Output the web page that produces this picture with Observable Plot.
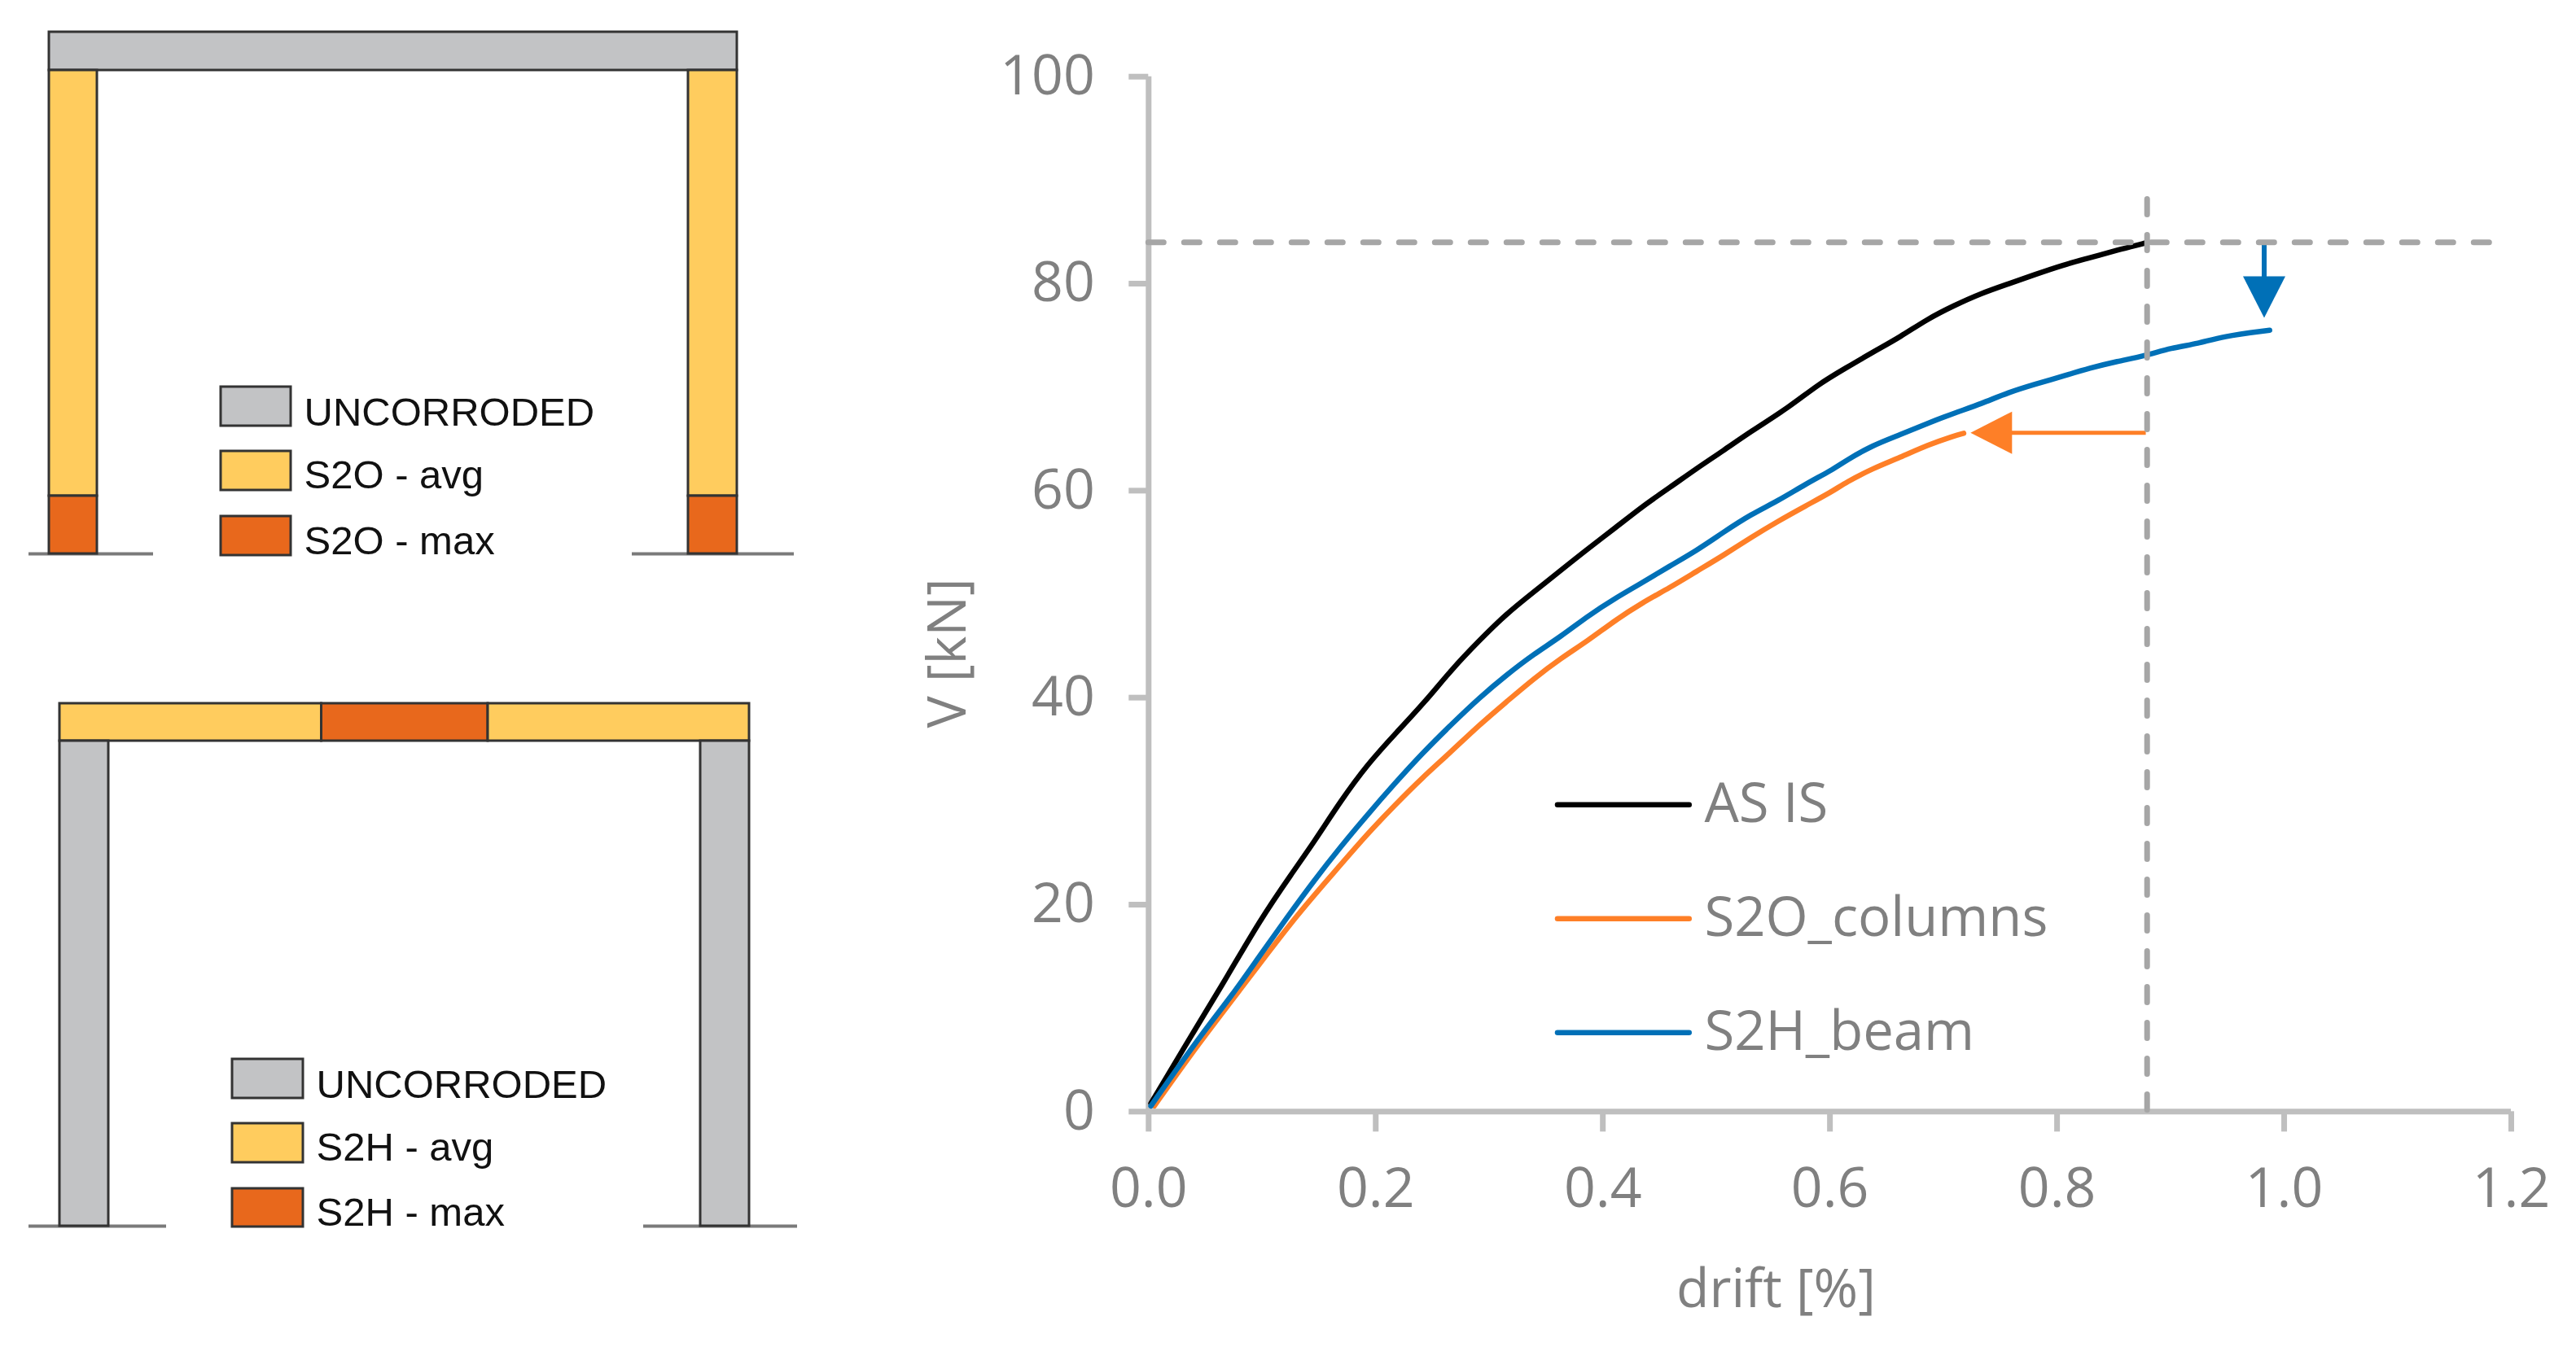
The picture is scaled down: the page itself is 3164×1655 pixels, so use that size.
<!DOCTYPE html>
<html>
<head>
<meta charset="utf-8">
<script src="https://cdn.jsdelivr.net/npm/d3@7"></script>
<script src="https://cdn.jsdelivr.net/npm/@observablehq/plot@0.6"></script>
<style>
html,body{margin:0;padding:0;background:#fff;width:3164px;height:1655px;overflow:hidden}
#page{position:relative;width:3164px;height:1655px}
#schematic{position:absolute;left:0;top:0;filter:blur(0.7px)}
#chart{position:absolute;left:1100px;top:0}
svg{display:block;max-width:none!important}
</style>
</head>
<body>
<div id="page"><div id="schematic"></div><div id="chart"></div></div>
<script>
// ---------- pushover curves ----------
const asIsDrift = [.002,.042,.069,.098,.126,.146,.169,.193,.218,.2435,.267,.291,.315,.339,.363,.387,.411,.435,.459,.4825,.506,.530,.564,.590,.614,.638,.662,.686,.7095,.733,.757,.781,.805,.829,.853,.877,.88];
const asIsV = [.8,8.15,13,18.5,23,26.1,30,33.6,36.6,39.6,42.75,45.5,48.1,50.2,52.3,54.4,56.4,58.5,60.3,62.15,63.85,65.7,68.05,70.3,71.85,73.4,74.85,76.6,77.9,79.06,79.97,80.9,81.8,82.5,83.25,83.9,84];

const s2oDrift = [.005,.038,.067,.098,.131,.16,.193,.217,.241,.265,.2913,.3152,.3391,.363,.3869,.4108,.4347,.4586,.4825,.5064,.5303,.5541,.578,.6019,.6139,.6378,.6617,.6856,.7095,.7178];
const s2oV = [.55,5.66,9.85,14.31,19.03,22.7,26.89,29.64,32.27,34.63,37.38,39.6,41.83,43.8,45.5,47.47,49.17,50.6,52.2,53.76,55.47,57.04,58.5,59.9,60.8,62.15,63.2,64.4,65.3,65.55];

const s2hDrift = [.002,.043,.074,.098,.122,.1455,.169,.193,.217,.241,.2674,.2913,.3152,.3391,.363,.3869,.4108,.4347,.4586,.4825,.5064,.5303,.5541,.578,.6019,.6139,.6378,.6617,.6856,.7095,.7334,.7573,.7812,.8051,.829,.8528,.8768,.9006,.9245,.945,.9872];
const s2hV = [.55,6.97,11.3,15.1,18.77,22.3,25.58,28.73,31.74,34.63,37.5,40,42.2,44.2,45.9,47.9,49.6,51.1,52.7,54.2,56,57.7,59,60.6,62,62.9,64.4,65.4,66.5,67.5,68.4,69.5,70.3,71.06,71.85,72.5,73,73.8,74.2,74.9,75.5];

const seriesNames = ["AS IS","S2O_columns","S2H_beam"];
const seriesColors = ["#000000","#fe7f27","#0070b7"];
const legendV = [29.65,18.64,7.63];
const legendX = [.3604,.4764,.4894];

const xTicks = [0,.2,.4,.6,.8,1,1.2];
const yTicks = [0,20,40,60,80,100];
const refV = 84, refDrift = .8793;

const toPoints = (xs, ys, name) => xs.map((x, i) => ({x, y: ys[i], name}));
const curves = [
  ...toPoints(asIsDrift, asIsV, seriesNames[0]),
  ...toPoints(s2oDrift, s2oV, seriesNames[1]),
  ...toPoints(s2hDrift, s2hV, seriesNames[2])
];
const legendRows = seriesNames.map((name, i) => ({name, color: seriesColors[i], v: legendV[i]}));

const arrowSymbol = {draw(c){c.moveTo(0,0);c.lineTo(26,51);c.lineTo(-26,51);c.closePath();}};
const axisGray = "#bfbfbf", textGray = "#808080", dashGray = "#a6a6a6";
const dash = {stroke: dashGray, strokeWidth: 7, strokeDasharray: "19,25", strokeLinecap: "round"};

const chart = Plot.plot({
  width: 2064, height: 1655,
  marginLeft: 310.3, marginRight: 80, marginTop: 93.7, marginBottom: 289.7,
  x: {domain: [0, 1.2]},
  y: {domain: [0, 100]},
  style: {fontFamily: "'Open Sans', sans-serif", background: "#fff"},
  marks: [
    Plot.axisY({ticks: yTicks, tickSize: 24, tickPadding: 42, stroke: axisGray, strokeWidth: 7, fill: textGray, fontSize: 68, label: null, tickFormat: d3.format("d")}),
    Plot.axisX({ticks: xTicks, tickSize: 25, tickPadding: 44, stroke: axisGray, strokeWidth: 7, fill: textGray, fontSize: 68, label: null, tickFormat: d3.format(".1f")}),
    Plot.ruleX([0], {stroke: axisGray, strokeWidth: 7}),
    Plot.ruleY([0], {stroke: axisGray, strokeWidth: 7}),
    Plot.line(curves, {x: "x", y: "y", z: "name", curve: "basis", stroke: d => seriesColors[seriesNames.indexOf(d.name)], strokeWidth: 6.5, strokeLinecap: "round", strokeLinejoin: "round"}),
    // annotation arrows
    Plot.ruleY([65.6], {x1: .8785, x2: .76, stroke: seriesColors[1], strokeWidth: 5}),
    Plot.dot([{x: .7238, y: 65.6}], {x: "x", y: "y", symbol: arrowSymbol, rotate: -90, fill: seriesColors[1]}),
    Plot.ruleX([.9824], {y1: 83.85, y2: 79, stroke: seriesColors[2], strokeWidth: 6}),
    Plot.dot([{x: .9824, y: 76.7}], {x: "x", y: "y", symbol: arrowSymbol, rotate: 180, fill: seriesColors[2]}),
    // reference lines
    Plot.ruleY([refV], {x1: 0, x2: 1.1866, ...dash}),
    Plot.ruleX([refDrift], {y1: 88.14, y2: 0, ...dash}),
    // legend
    Plot.ruleY(legendRows, {y: "v", x1: legendX[0], x2: legendX[1], stroke: "color", strokeWidth: 6.5, strokeLinecap: "round"}),
    Plot.text(legendRows, {y: "v", x: () => legendX[2], text: "name", textAnchor: "start", fill: textGray, fontSize: 67}),
    // axis titles
    Plot.text(["drift [%]"], {x: () => .5525, y: () => -17.2, fontSize: 66, fill: textGray}),
    Plot.text(["V [kN]"], {x: () => -.1766, y: () => 44.3, rotate: -90, fontSize: 66, fill: textGray})
  ]
});
document.getElementById("chart").append(chart);

// ---------- frame schematics ----------
const gray = "#c2c3c5", avg = "#ffcc5e", max = "#e8681c";
const memberFill = [gray,avg,max,avg,max, avg,max,avg,gray,gray];
const memberX1 = [60,60,60,845,845, 73,394.5,599,73,860];
const memberX2 = [905,119,119,905,905, 394.5,599,920,133,920];
const memberY1 = [39,86,609,86,609, 864,864,864,910,910];
const memberY2 = [86,609,680,609,680, 910,910,910,1506,1506];
const members = memberFill.map((fill,i) => ({fill, x1: memberX1[i], x2: memberX2[i], y1: memberY1[i], y2: memberY2[i]}));

const groundX1 = [35,776,35,790];
const groundX2 = [188,975,204,979];
const groundY = [680,680,1506,1506];
const ground = groundX1.map((x1,i) => ({x1, x2: groundX2[i], y: groundY[i]}));

const keyLabels = ["UNCORRODED","S2O - avg","S2O - max","UNCORRODED","S2H - avg","S2H - max"];
const keyFill = [gray,avg,max,gray,avg,max];
const keyX1 = [271,271,271,285,285,285];
const keyX2 = [357,357,357,372,372,372];
const keyY1 = [475,554,634,1301,1380,1460];
const keyY2 = [523,602,682,1349,1428,1507];
const keyTextX = [373,373,373,388,388,388];
const keyTextY = [522,599,680,1348,1425,1505];
const keys = keyLabels.map((label,i) => ({label, fill: keyFill[i], x1: keyX1[i], x2: keyX2[i], y1: keyY1[i], y2: keyY2[i], tx: keyTextX[i], ty: keyTextY[i]}));

const schematic = Plot.plot({
  width: 1100, height: 1655,
  margin: 0,
  x: {domain: [0, 1100], axis: null},
  y: {domain: [0, 1655], range: [0, 1655], axis: null},
  style: {fontFamily: "'Liberation Sans', Arial, sans-serif", background: "#fff"},
  marks: [
    Plot.ruleY(ground, {x1: "x1", x2: "x2", y: "y", stroke: "#7a7a7a", strokeWidth: 4}),
    Plot.rect(members, {x1: "x1", x2: "x2", y1: "y1", y2: "y2", fill: "fill", stroke: "#333", strokeWidth: 3}),
    Plot.rect(keys, {x1: "x1", x2: "x2", y1: "y1", y2: "y2", fill: "fill", stroke: "#333", strokeWidth: 3}),
    Plot.text(keys, {x: "tx", y: "ty", text: "label", textAnchor: "start", lineAnchor: "bottom", fontSize: 49, fill: "#111"})
  ]
});
document.getElementById("schematic").append(schematic);
</script>
</body>
</html>
